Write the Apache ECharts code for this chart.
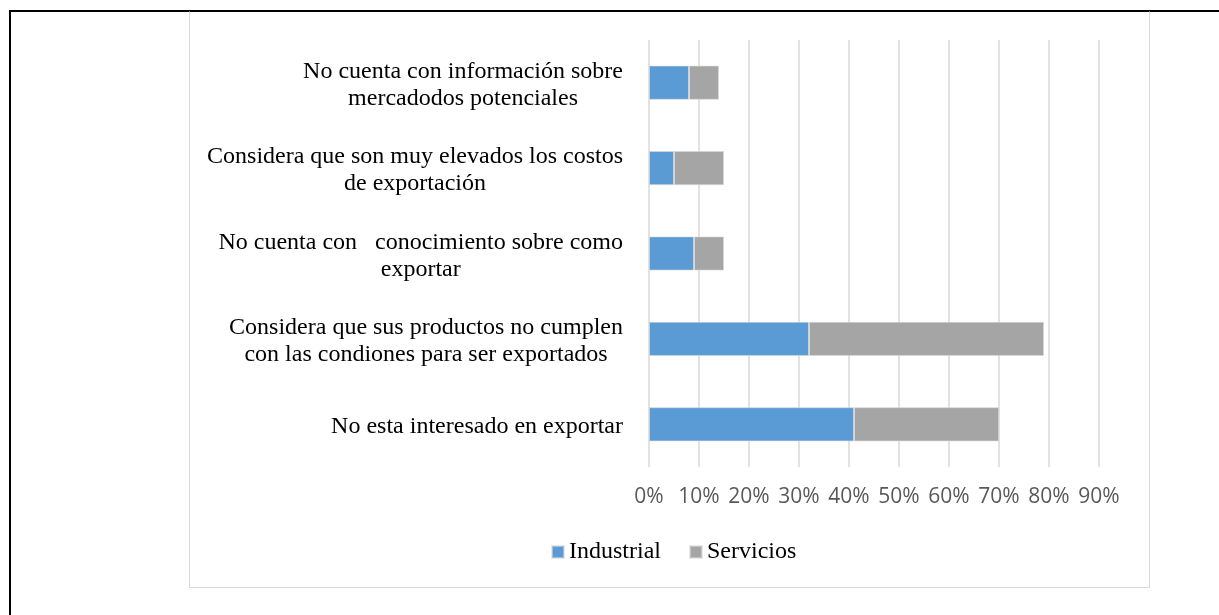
<!DOCTYPE html>
<html>
<head>
<meta charset="utf-8">
<title>Barreras para exportar</title>
<script src="https://cdn.jsdelivr.net/npm/echarts@6/dist/echarts.min.js"></script>
<style>
  html, body { margin: 0; padding: 0; width: 1219px; height: 615px; overflow: hidden; background: #fff; }
  #frame { position: absolute; left: 9px; top: 10px; width: 1400px; height: 800px; border: 2px solid #000; }
  #box { position: absolute; left: 189px; top: 11px; width: 959px; height: 575px; border: 1px solid #d9d9d9; border-top-color: transparent; }
  #chart { position: absolute; left: 0; top: 0; width: 1219px; height: 615px; }
</style>
</head>
<body>
<div id="frame"></div>
<div id="box"></div>
<div id="chart"></div>
<script>
// categories, top to bottom as drawn
var categories = [
  'No cuenta con información sobre\nmercadodos potenciales',
  'Considera que son muy elevados los costos\nde exportación',
  'No cuenta con   conocimiento sobre como\nexportar',
  'Considera que sus productos no cumplen\ncon las condiones para ser exportados',
  'No esta interesado en exportar'
]
var industrial = [8, 5, 9, 32, 41]
var servicios = [6, 10, 6, 47, 29]
var seriesNames = ['Industrial', 'Servicios']
var xTicks = { min: 0, max: 90, step: 10 }

var serif = '"Times New Roman", "Liberation Serif", serif'

var myChart = echarts.init(document.getElementById('chart'))
var option = {
  animation: false,
  backgroundColor: 'transparent',
  color: ['#5B9BD5', '#A5A5A5'],
  grid: { left: 649, top: 40, width: 450, height: 427, containLabel: false },
  legend: {
    data: seriesNames,
    left: 546,
    top: 535,
    icon: 'rect',
    itemWidth: 12,
    itemHeight: 12,
    itemGap: 28,
    textStyle: { fontFamily: serif, fontSize: 24, color: '#000' }
  },
  xAxis: {
    type: 'value',
    min: xTicks.min,
    max: xTicks.max,
    interval: xTicks.step,
    axisLine: { show: false },
    axisTick: { show: false },
    splitLine: { lineStyle: { color: '#d9d9d9', width: 1.5 } },
    axisLabel: {
      formatter: '{value}%',
      margin: 20,
      color: '#595959',
      fontFamily: '"Open Sans", sans-serif',
      fontSize: 21
    }
  },
  yAxis: {
    type: 'category',
    inverse: true,
    data: categories,
    axisLine: { show: false },
    axisTick: { show: false },
    axisLabel: {
      margin: 26,
      align: 'right',
      padding: [5, 0, 0, 0],
      formatter: function (v) {
        return v.split('\n').map(function (s) { return '{c|' + s + '}' }).join('\n')
      },
      rich: {
        c: { align: 'center', fontFamily: serif, fontSize: 24, lineHeight: 27, color: '#000' }
      }
    }
  },
  series: [
    {
      name: seriesNames[0],
      type: 'bar',
      stack: 'total',
      barWidth: '40%',
      data: industrial,
      itemStyle: { borderColor: 'rgba(217,217,217,0.6)', borderWidth: 1 }
    },
    {
      name: seriesNames[1],
      type: 'bar',
      stack: 'total',
      barWidth: '40%',
      data: servicios,
      itemStyle: { borderColor: 'rgba(217,217,217,0.6)', borderWidth: 1 }
    }
  ]
}
myChart.setOption(option)
</script>
</body>
</html>
